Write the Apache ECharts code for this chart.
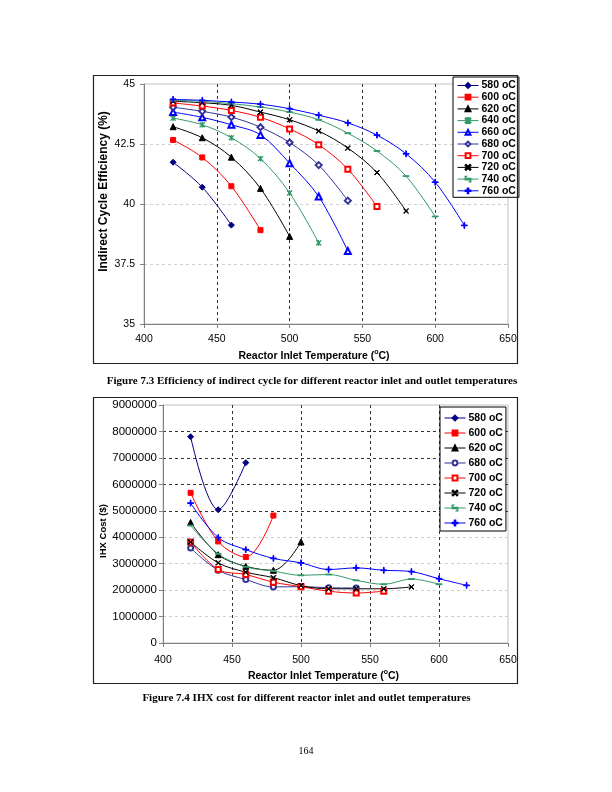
<!DOCTYPE html>
<html>
<head>
<meta charset="utf-8">
<script src="https://cdn.jsdelivr.net/npm/echarts@6/dist/echarts.min.js"></script>
<style>
html,body{margin:0;padding:0;background:#fff;}
#a{position:absolute;left:0;top:0;width:612px;height:392px;}
#b{position:absolute;left:0;top:392px;width:612px;height:400px;}
</style>
</head>
<body>
<div id="a"></div>
<div id="b"></div>
<script>
// ---- shared x categories (reactor inlet temperature, °C) ----
const xTemps = [420, 440, 460, 480, 500, 520, 540, 560, 580, 600, 620];

// ---- Figure 7.3: indirect cycle efficiency (%) ----
const effNames = ['580 oC','600 oC','620 oC','640 oC','660 oC','680 oC','700 oC','720 oC','740 oC','760 oC'];
const eff580 = [41.74, 40.70, 39.12];
const eff600 = [42.67, 41.94, 40.74, 38.91];
const eff620 = [43.22, 42.76, 41.95, 40.65, 38.65];
const eff640 = [43.58, 43.30, 42.76, 41.89, 40.46, 38.38];
const eff660 = [43.83, 43.61, 43.30, 42.88, 41.70, 40.31, 38.04];
const eff680 = [44.03, 43.86, 43.62, 43.20, 42.56, 41.62, 40.14];
const eff700 = [44.21, 44.08, 43.90, 43.61, 43.13, 42.47, 41.45, 39.90];
const eff720 = [44.28, 44.22, 44.11, 43.83, 43.51, 43.04, 42.33, 41.31, 39.71];
const eff740 = [44.32, 44.28, 44.18, 44.04, 43.83, 43.51, 42.95, 42.21, 41.16, 39.48];
const eff760 = [44.36, 44.32, 44.25, 44.16, 43.97, 43.70, 43.38, 42.87, 42.09, 40.91, 39.11];
const effTicks = [35, 37.5, 40, 42.5, 45];

// ---- Figure 7.4: IHX cost ($) ----
const costNames = ['580 oC','600 oC','620 oC','680 oC','700 oC','720 oC','740 oC','760 oC'];
const cost580 = [7800000, 5040000, 6820000];
const cost600 = [5680000, 3840000, 3250000, 4820000];
const cost620 = [4560000, 3340000, 2900000, 2750000, 3820000];
const cost680 = [3590000, 2750000, 2400000, 2120000, 2130000, 2090000, 2080000];
const cost700 = [3820000, 2780000, 2590000, 2300000, 2130000, 1960000, 1890000, 1960000];
const cost720 = [3820000, 3030000, 2680000, 2470000, 2170000, 2050000, 2050000, 2050000, 2120000];
const cost740 = [4440000, 3370000, 2880000, 2720000, 2560000, 2590000, 2370000, 2220000, 2420000, 2220000];
const cost760 = [5290000, 3990000, 3530000, 3200000, 3030000, 2780000, 2840000, 2750000, 2700000, 2430000, 2180000];

// ---- marker styles ----
const NAVY = '#000080', RED = '#ff0000', BLACK = '#000000', GREEN = '#339966', BLUE = '#0000ff', NAVY2 = '#333399';
const CORNERS = 'M0,0L0.01,0L0,0.01ZM10,10L9.99,10L10,9.99Z';
const P_PLUS = 'path://M4.4,0H5.6V10H4.4ZM0,4.4H10V5.6H0Z';
const P_X = 'path://M0,0.9L0.9,0L10,9.1L9.1,10ZM9.1,0L10,0.9L0.9,10L0,9.1Z';
const P_AST = 'path://M0,0.9L0.9,0L10,9.1L9.1,10ZM9.1,0L10,0.9L0.9,10L0,9.1ZM4.5,0H5.5V10H4.5Z';
const P_DASH = 'path://M0,4.3H10V5.7H0Z' + CORNERS;

const styleMap = {
  '580 oC': {c: NAVY, s: 'diamond', z: 6},
  '600 oC': {c: RED, s: 'rect', z: 5},
  '620 oC': {c: BLACK, s: 'triangle', z: 6},
  '640 oC': {c: GREEN, s: P_AST, z: 5},
  '660 oC': {c: BLUE, s: 'emptyTriangle', z: 6},
  '680 oC': {c: NAVY2, s: 'emptyDiamond', z: 6},
  '700 oC': {c: RED, s: 'emptyRect', z: 5},
  '720 oC': {c: BLACK, s: P_X, z: 5},
  '740 oC': {c: GREEN, s: P_DASH, z: 6},
  '760 oC': {c: BLUE, s: P_PLUS, z: 6}
};

function mkSeries(name, vals, override) {
  const st = Object.assign({}, styleMap[name], override || {});
  return {
    name: name,
    type: 'line',
    smooth: 0.35,
    data: vals.map((v, i) => [xTemps[i], v]),
    symbol: st.s,
    symbolSize: st.z,
    showSymbol: true,
    lineStyle: {color: st.c, width: 1},
    itemStyle: {color: st.c, borderColor: st.c, borderWidth: 1},
    emphasis: {disabled: true},
    animation: false
  };
}

const FONT = 'Liberation Sans, Arial, sans-serif';
const SERIF = 'Liberation Serif, Times New Roman, serif';
const CLEAR = 'rgba(0,0,0,0)';

function xAxisCfg(labelMargin, nameGap) {
  return {
    type: 'value', min: 400, max: 650, interval: 50,
    name: 'Reactor Inlet Temperature ({sup|o}C)',
    nameLocation: 'middle', nameGap: nameGap, nameMoveOverlap: false,
    nameTextStyle: {fontFamily: FONT, fontWeight: 'bold', fontSize: 10.5, color: '#000', padding: [0, 24, 0, 0],
      rich: {sup: {fontFamily: FONT, fontWeight: 'bold', fontSize: 7, color: '#000', padding: [0, 0, 7, 0]}}},
    axisLine: {show: true, lineStyle: {color: '#808080', width: 1}},
    axisTick: {show: true, inside: false, length: 4, lineStyle: {color: '#808080'}},
    axisLabel: {fontFamily: FONT, fontSize: 10.5, color: '#000', margin: labelMargin},
    splitLine: {show: true, lineStyle: {color: ['#333', '#333', '#333', '#333', '#333', CLEAR], type: [3, 3], width: 1}}
  };
}

function legendCfg(names, left, top, pad, gap, lh) {
  return {
    orient: 'vertical', left: left, top: top,
    data: names,
    backgroundColor: '#fff', borderColor: '#000', borderWidth: 1,
    padding: pad, itemGap: gap, itemWidth: 21, itemHeight: 6,
    lineStyle: {width: 1},
    textStyle: {fontFamily: FONT, fontWeight: 'bold', fontSize: 10.5, color: '#000', lineHeight: lh, padding: [0, 0, 0, -2]},
    selectedMode: false
  };
}

// ================= Chart A =================
const chartA = echarts.init(document.getElementById('a'), null, {renderer: 'canvas'});
const effSeries = [eff580, eff600, eff620, eff640, eff660, eff680, eff700, eff720, eff740, eff760]
  .map((vals, i) => mkSeries(effNames[i], vals));
chartA.setOption({
  animation: false,
  backgroundColor: '#fff',
  grid: {left: 144, top: 84, width: 364, height: 240, show: true, borderColor: '#c0c0c0', borderWidth: 1, containLabel: false},
  xAxis: xAxisCfg(10, 25),
  yAxis: {
    type: 'value', min: effTicks[0], max: effTicks[effTicks.length - 1], interval: 2.5,
    name: 'Indirect Cycle Efficiency (%)', nameLocation: 'middle', nameGap: 34, nameRotate: 90, nameMoveOverlap: false,
    nameTextStyle: {fontFamily: FONT, fontWeight: 'bold', fontSize: 12, color: '#000', padding: [0, 0, 0, 25]},
    axisLine: {show: true, lineStyle: {color: '#808080'}},
    axisTick: {show: true, inside: false, length: 4, lineStyle: {color: '#808080'}},
    axisLabel: {fontFamily: FONT, fontSize: 10.5, color: '#000', margin: 9},
    splitLine: {show: true, lineStyle: {color: ['#d0d0d0', '#d0d0d0', '#d0d0d0', '#d0d0d0', CLEAR], type: [3, 3]}}
  },
  legend: legendCfg(effNames, 453, 77, [3, 3, 1, 4], 0.7, 11),
  graphic: [
    {type: 'rect', shape: {x: 93.5, y: 75.5, width: 424, height: 288}, style: {fill: 'none', stroke: '#222', lineWidth: 1.2}, silent: true, z: 100},
    {type: 'text', x: 312, y: 381, silent: true, z: 100,
     style: {text: 'Figure 7.3 Efficiency of indirect cycle for different reactor inlet and outlet temperatures',
             font: 'bold 11px ' + SERIF, fill: '#000', textAlign: 'center', textVerticalAlign: 'middle'}}
  ],
  series: effSeries
});

// ================= Chart B =================
const chartB = echarts.init(document.getElementById('b'), null, {renderer: 'canvas'});
const costSeries = [cost580, cost600, cost620, cost680, cost700, cost720, cost740, cost760]
  .map((vals, i) => mkSeries(costNames[i], vals, costNames[i] === '680 oC' ? {s: 'emptyCircle', z: 5} : null));
const yGridColors = ['#cfcfcf', '#cfcfcf', '#cfcfcf', '#cfcfcf', '#cfcfcf', '#333', '#333', '#333', '#333', CLEAR];
chartB.setOption({
  animation: false,
  backgroundColor: '#fff',
  grid: {left: 163, top: 13, width: 345, height: 238, show: true, borderColor: '#c0c0c0', borderWidth: 1, containLabel: false},
  xAxis: xAxisCfg(12, 26),
  yAxis: {
    type: 'value', min: 0, max: 9000000, interval: 1000000,
    name: 'IHX Cost ($)', nameLocation: 'middle', nameGap: 55, nameRotate: 90, nameMoveOverlap: false,
    nameTextStyle: {fontFamily: FONT, fontWeight: 'bold', fontSize: 9.5, color: '#000', padding: [0, 14, 0, 0]},
    axisLine: {show: true, lineStyle: {color: '#808080'}},
    axisTick: {show: true, inside: false, length: 4, lineStyle: {color: '#808080'}},
    axisLabel: {fontFamily: FONT, fontSize: 11.5, color: '#000', margin: 6, formatter: v => String(v)},
    splitLine: {show: true, lineStyle: {color: yGridColors, type: [3, 3]}}
  },
  legend: legendCfg(costNames, 440, 15, [5, 3, 2, 4], 3, 12),
  graphic: [
    {type: 'rect', shape: {x: 93.5, y: 5.5, width: 424, height: 286}, style: {fill: 'none', stroke: '#222', lineWidth: 1.2}, silent: true, z: 100},
    {type: 'text', x: 306.5, y: 306, silent: true, z: 100,
     style: {text: 'Figure 7.4 IHX cost for different reactor inlet and outlet temperatures',
             font: 'bold 11px ' + SERIF, fill: '#000', textAlign: 'center', textVerticalAlign: 'middle'}},
    {type: 'text', x: 306, y: 359, silent: true, z: 100,
     style: {text: '164', font: '10px ' + SERIF, fill: '#000', textAlign: 'center', textVerticalAlign: 'middle'}}
  ],
  series: costSeries
});
</script>
</body>
</html>
